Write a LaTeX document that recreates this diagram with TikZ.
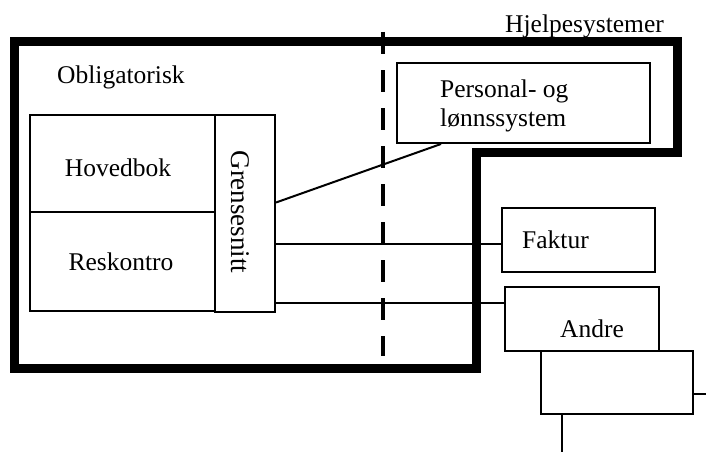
\documentclass[tikz,border=0pt]{standalone}
\usepackage{fontspec}
\setmainfont{Liberation Serif}
\begin{document}
\begin{tikzpicture}[x=1pt,y=-1pt,
  box/.style={draw,line width=2pt,fill=white,inner sep=0pt},
  lbl/.style={font=\fontsize{25.5}{29}\selectfont,inner sep=0pt},
  thin/.style={line width=2pt},
  frame/.style={line width=9pt,miter limit=10},
  sep/.style={line width=4.5pt,dash pattern=on 22pt off 16pt}]
\useasboundingbox (0,0) rectangle (706,452);
% outer thick frame
\draw[frame] (14,42) -- (677,42) -- (677,152) -- (476,152) -- (476,368) -- (14,368) -- cycle;
% dashed separator
\draw[sep] (383,32) -- (383,356);
% labels
\node[lbl,anchor=base west] (hjelp) at (505,33) {Hjelpesystemer};
\node[lbl,anchor=base west] (oblig) at (57,83) {Obligatorisk};
% left boxes
\node[box,minimum width=185pt,minimum height=97pt] (hov) at (122.5,163.5) {};
\node[lbl] (hovt) at (118,168) {Hovedbok};
\node[box,minimum width=185pt,minimum height=99pt] (res) at (122.5,261.5) {};
\node[lbl] (rest) at (121,262) {Reskontro};
\node[box,minimum width=60pt,minimum height=197pt] (gr) at (245,213.5) {};
\node[lbl,rotate=-90,font=\fontsize{27}{30}\selectfont] (grt) at (240,212) {Grensesnitt};
% right boxes
\node[box,minimum width=253pt,minimum height=80pt] (pers) at (523.5,103) {};
\node[lbl,anchor=west,align=left] (perst) at (440,106) {Personal- og\\lønnssystem};
\node[box,minimum width=153pt,minimum height=64pt] (fak) at (578.5,240) {};
\node[lbl,anchor=west] (fakt) at (522,240) {Faktur};
\node[box,minimum width=152pt,minimum height=63pt] (box2) at (617,382.5) {};
\node[box,minimum width=154pt,minimum height=64pt] (andre) at (582,319) {};
\node[lbl] (andret) at (592,329) {Andre};
% connectors
\coordinate (rEnd) at (706,394);
\coordinate (bEnd) at (562,452);
\draw[thin] ([yshift=11pt]gr.east) -- ([xshift=-82.5pt]pers.south);
\draw[thin] ([yshift=-30pt]gr.east) -- ([yshift=-30pt]gr.east -| fak.west);
\draw[thin] ([yshift=-89pt]gr.east) -- ([yshift=-89pt]gr.east -| andre.west);
\draw[thin] ([yshift=-11.5pt]box2.east) -- (rEnd);
\draw[thin] ([xshift=-55pt]box2.south) -- (bEnd);
\end{tikzpicture}
\end{document}
